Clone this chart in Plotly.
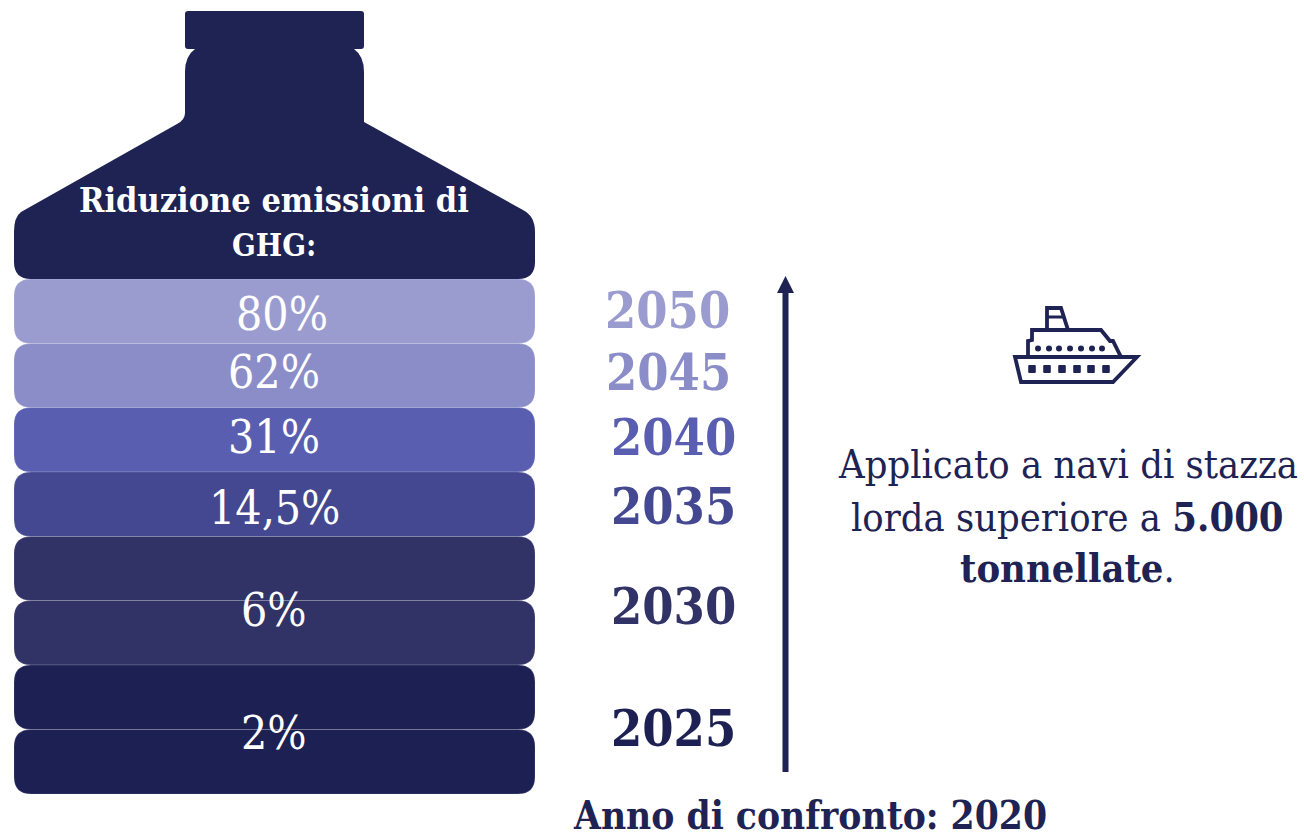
import plotly.graph_objects as go

# ---- content ----
years = ["2050", "2045", "2040", "2035", "2030", "2025"]
reductions = ["80%", "62%", "31%", "14,5%", "6%", "2%"]
title_lines = ["Riduzione emissioni di", "GHG:"]
note_lines = ["Applicato a navi di stazza", "lorda superiore a <b>5.000</b>", "<b>tonnellate</b>."]
footer = "Anno di confronto: 2020"

# ---- layout / style (pixel space of the infographic) ----
W, H = 1304, 839
SERIF = "'DejaVu Serif Condensed', 'DejaVu Serif', serif"
DARK = "#1E2353"
band_colors = ["#9A9CD0", "#8B8DC8", "#5A5EB0", "#444890", "#313265", "#313265", "#1C2052", "#1C2052"]
band_edges = [279, 343.5, 407.5, 472, 536.5, 600.5, 665, 729.5, 794]
year_colors = ["#9A9CD0", "#8B8DC8", "#5A5EB0", "#444890", "#313265", "#1C2052"]
year_pos = [(667, 310), (668, 372), (673, 437), (673, 506), (673, 606), (673, 728)]
pct_pos = [(282, 314), (274, 372), (274, 437), (274, 508), (274, 610), (274, 733)]


def rrect(x0, y0, x1, y1, r):
    return (f"M{x0+r},{y0} L{x1-r},{y0} Q{x1},{y0} {x1},{y0+r} L{x1},{y1-r} Q{x1},{y1} {x1-r},{y1} "
            f"L{x0+r},{y1} Q{x0},{y1} {x0},{y1-r} L{x0},{y0+r} Q{x0},{y0} {x0+r},{y0} Z")


shapes = []


def add_path(path, fill=None, line=None, width=0):
    shapes.append(dict(type="path", path=path, xref="x", yref="y", layer="above",
                       fillcolor=fill or "rgba(0,0,0,0)",
                       line=dict(color=line or "rgba(0,0,0,0)", width=width)))


# bottle bands (top to bottom)
for i, c in enumerate(band_colors):
    add_path(rrect(14, band_edges[i], 535, band_edges[i + 1], 17), fill=c,
             line="rgba(255,255,255,0.25)", width=0.6)

# bottle top silhouette
add_path("M195,49 Q185,56 185,72 L185,113 Q185,120 177,124 L21,212 Q14,217 14,232 L14,262 "
         "Q14,279 31,279 L518,279 Q535,279 535,262 L535,232 Q535,216 523,210 L364,122 "
         "L364,72 Q364,56 354,49 Z", fill=DARK)
add_path(rrect(185, 11, 364, 49, 3), fill=DARK)

# arrow
add_path("M782.5,772 L788.5,772 L788.5,293 L782.5,293 Z", fill=DARK)
add_path("M785.5,276 L794,293 L777,293 Z", fill=DARK)

# ship icon
S = DARK
add_path("M1015,357 L1137,357 L1113,382 L1021,382 Z", line=S, width=3.8)
add_path("M1028,357 L1028,341 L1032,340 L1032,330 L1101,330 L1110,341 L1113,341 L1121,357", line=S, width=3.8)
add_path("M1047,330 L1047,308 L1061,308 L1068,330", line=S, width=3.8)
add_path("M1048,317 L1063,317", line=S, width=3)
for px in [1038, 1049, 1059, 1070, 1081, 1092, 1102]:
    shapes.append(dict(type="circle", xref="x", yref="y", x0=px - 3, x1=px + 3, y0=348.5 - 3, y1=348.5 + 3,
                       fillcolor=S, line=dict(width=0), layer="above"))
for px in [1032, 1047, 1062, 1077, 1091, 1106]:
    add_path(rrect(px - 3.8, 365, px + 3.8, 373, 1), fill=S)

ann = []


def text(x, y, t, size, color, bold=False):
    ann.append(dict(x=x, y=y, xref="x", yref="y", text=f"<b>{t}</b>" if bold else t, showarrow=False,
                    xanchor="center", yanchor="middle",
                    font=dict(family=SERIF, size=size, color=color)))


text(274, 200, title_lines[0], 34, "white", True)
text(274, 245, title_lines[1], 31, "white", True)
for (x, y), t in zip(pct_pos, reductions):
    text(x, y, t, 46, "white")
for (x, y), t, c in zip(year_pos, years, year_colors):
    text(x, y, t, 50, c, True)
note_y = [464, 517, 568]
for y, t in zip(note_y, note_lines):
    text(1067.5, y, t, 39.5, DARK)
text(810, 815, footer, 38.5, DARK, True)

fig = go.Figure()
fig.update_layout(
    width=W, height=H, margin=dict(l=0, r=0, t=0, b=0),
    paper_bgcolor="white", plot_bgcolor="white", showlegend=False,
    xaxis=dict(range=[0, W], visible=False, fixedrange=True),
    yaxis=dict(range=[H, 0], visible=False, fixedrange=True),
    shapes=shapes, annotations=ann,
)
fig.write_html("out.html", config=dict(displayModeBar=False),
               post_script="document.body.style.margin='0';document.body.style.overflow='hidden';")
